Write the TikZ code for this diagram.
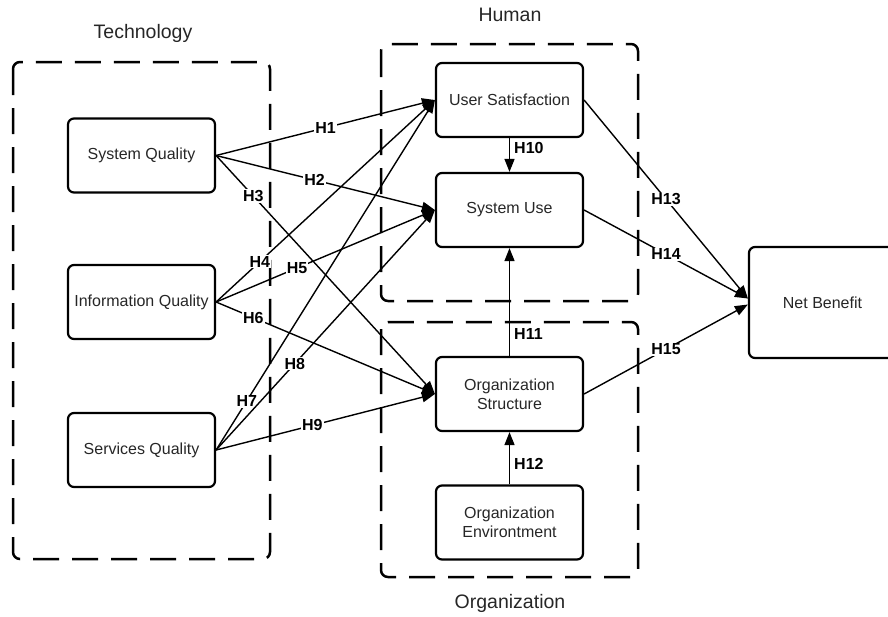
\documentclass[tikz,border=0pt]{standalone}
\usepackage{fontspec}
\setmainfont{Liberation Sans}
\usetikzlibrary{arrows.meta}
\begin{document}
\begin{tikzpicture}[x=1pt, y=-1pt,
        block/.style={draw, line width=2.2pt, rounded corners=6pt, minimum width=147pt, minimum height=74pt, align=center, font=\fontsize{16}{19}\selectfont, text=black!85},
        group/.style={line width=2.5pt, rounded corners=7pt, dash pattern=on 26pt off 13pt},
        grouplabel/.style={font=\fontsize{19.5}{23}\selectfont, text=black!85},
        link/.style={line width=1.4pt, -{Triangle[length=13pt,width=10pt]}},
        hyp/.style={font=\bfseries\fontsize{16}{19}\selectfont, fill=white, inner sep=1pt},
        side/.style={font=\bfseries\fontsize{16}{19}\selectfont, inner sep=4pt}]
    \useasboundingbox (0,0) rectangle (888,616);
    \clip (0,0) rectangle (888,616);
    % groups
    \draw[group] (13,62) rectangle (270,559);
    \draw[group] (381,44) rectangle (638,301);
    \draw[group] (381,322) rectangle (638,577);
    \node[grouplabel] (tech) at (143,33) {Technology};
    \node[grouplabel] (human) at (510,15) {Human};
    \node[grouplabel] (org) at (510,603) {Organization};
    % blocks
    \node[block] (sq) at (141.5,155.5) {System Quality};
    \node[block] (iq) at (141.5,302) {Information Quality};
    \node[block] (svq) at (141.5,450) {Services Quality};
    \node[block] (us) at (509.5,100) {User Satisfaction};
    \node[block] (su) at (509.5,210) {System Use};
    \node[block] (os) at (509.5,394) {Organization\\Structure};
    \node[block] (oe) at (509.5,522.5) {Organization\\Environtment};
    \node[block, minimum height=111pt] (nb) at (822.5,302.5) {Net Benefit};
    % hypotheses
    \draw[link] (sq.east) -- node[hyp, pos=.5] {H1} (us.west);
    \draw[link] (sq.east) -- node[hyp, pos=.45] {H2} (su.west);
    \draw[link] (sq.east) -- node[hyp, pos=.17] {H3} (os.west);
    \draw[link] (iq.east) -- node[hyp, pos=.2] {H4} (us.west);
    \draw[link] (iq.east) -- node[hyp, pos=.37] {H5} (su.west);
    \draw[link] (iq.east) -- node[hyp, pos=.17] {H6} (os.west);
    \draw[link] (svq.east) -- node[hyp, pos=.14] {H7} (us.west);
    \draw[link] (svq.east) -- node[hyp, pos=.36] {H8} (su.west);
    \draw[link] (svq.east) -- node[hyp, pos=.44] {H9} (os.west);
    \draw[link] (us.south) -- node[side, right, pos=.3] {H10} (su.north);
    \draw[link] (os.north) -- node[side, right, pos=.2] {H11} (su.south);
    \draw[link] (oe.north) -- node[side, right, pos=.4] {H12} (os.south);
    \draw[link] (us.east) -- node[hyp, pos=.5] {H13} ([yshift=4pt]nb.west);
    \draw[link] (su.east) -- node[hyp, pos=.5] {H14} ([yshift=4pt]nb.west);
    \draw[link] (os.east) -- node[hyp, pos=.5] {H15} ([yshift=-2pt]nb.west);
\end{tikzpicture}
\end{document}
